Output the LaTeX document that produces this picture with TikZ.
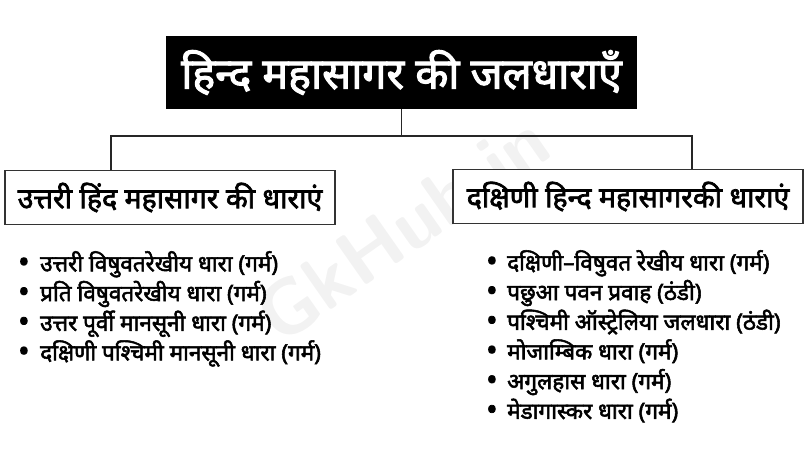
\documentclass[tikz,border=0pt]{standalone}
\usepackage{fontspec}
\newfontfamily\hindi[Script=Devanagari, AutoFakeBold=2.4]{Noto Sans}
\usetikzlibrary{positioning}
\newcommand\itemdot[1]{\makebox[#1][l]{\raisebox{-1.2pt}{\scalebox{1.35}{•}}}}

\begin{document}
\begin{tikzpicture}[
  x=1pt, y=-1pt,
  every node/.style = {inner sep=0pt, align=center,
    font=\hindi\bfseries},
  titlebox/.style = {fill=black, text=white,
    minimum width=471pt, minimum height=73pt,
    font=\hindi\bfseries\fontsize{43}{48}\selectfont},
  headbox/.style = {draw=black!80, line width=1.6pt, fill=white,
    minimum height=54pt,
    font=\hindi\bfseries\fontsize{28.5}{32}\selectfont},
  itemlist/.style = {anchor=north west, align=left,
    font=\hindi\bfseries\fontsize{22.5}{29.7}\selectfont},
  conn/.style = {draw=black!85, line width=1.4pt}]
  \useasboundingbox (0,0) rectangle (810,450);
  % watermark
  \node[text=black!5, rotate=35, font=\sffamily\bfseries\fontsize{78}{80}\selectfont]
    (mark) at (402,228) {GkHub.in};
  % title and the two headings
  \node[titlebox] (title) at (401.5,72.5) {हिन्द महासागर की जलधाराएँ};
  \node[headbox, minimum width=330pt] (north) at (170,197.5)
    {उत्तरी हिंद महासागर की धाराएं};
  \node[headbox, minimum width=350pt] (south) at (628,196.5)
    {दक्षिणी हिन्द महासागरकी धाराएं};
  \coordinate (lj) at (111,136);
  \coordinate (rj) at (692,136);
  \draw[conn] (title.south) -- (title.south |- lj);
  \draw[conn] (lj |- north.north) -- (lj) -- (rj) -- (rj |- south.north);
  % the two lists
  \node[itemlist] (nlist) at (18,251) {%
    \itemdot{22pt}उत्तरी विषुवतरेखीय धारा (गर्म)\\
    \itemdot{22pt}प्रति विषुवतरेखीय धारा (गर्म)\\
    \itemdot{22pt}उत्तर पूर्वी मानसूनी धारा (गर्म)\\
    \itemdot{22pt}दक्षिणी पश्चिमी मानसूनी धारा (गर्म)};
  \node[itemlist] (slist) at (486,250) {%
    \itemdot{21pt}दक्षिणी–विषुवत रेखीय धारा (गर्म)\\
    \itemdot{21pt}पछुआ पवन प्रवाह (ठंडी)\\
    \itemdot{21pt}पश्चिमी ऑस्ट्रेलिया जलधारा (ठंडी)\\
    \itemdot{21pt}मोजाम्बिक धारा (गर्म)\\
    \itemdot{21pt}अगुलहास धारा (गर्म)\\
    \itemdot{21pt}मेडागास्कर धारा (गर्म)};
\end{tikzpicture}
\end{document}
